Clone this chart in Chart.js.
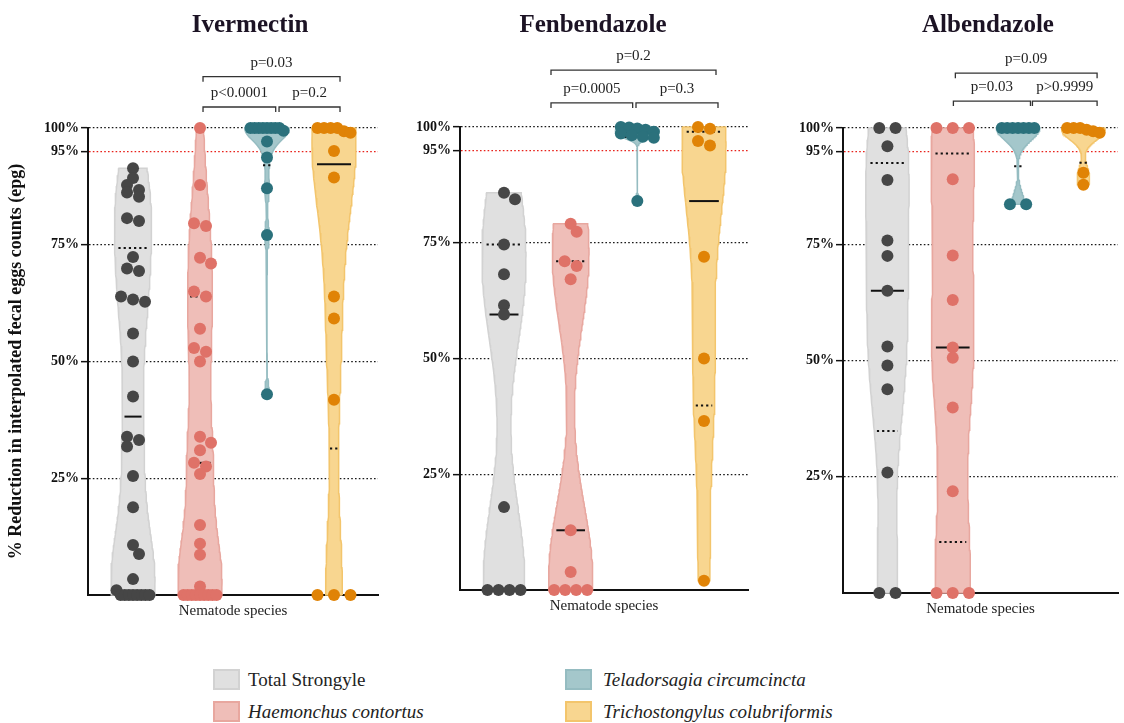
<!DOCTYPE html>
<html>
<head>
<meta charset="utf-8">
<script src="https://cdn.jsdelivr.net/npm/chart.js@4.4.1/dist/chart.umd.min.js"></script>
<style>
  body { margin: 0; background: #fff; width: 1124px; height: 723px; position: relative; overflow: hidden;
         font-family: "Liberation Serif", "Times New Roman", serif; }
  canvas { position: absolute; top: 0; }
  .drug { position: absolute; top: 9px; font-size: 25px; line-height: 30px; font-weight: bold; color: #1c1324;
          transform: translateX(-50%); white-space: nowrap; }
  .leg { position: absolute; font-size: 19px; line-height: 22px; color: #222; white-space: nowrap; }
  .leg .box { position: absolute; width: 23px; height: 17px; border: 2px solid; }
  .leg .txt { position: absolute; top: 0; }
</style>
</head>
<body>
<canvas id="c1" width="385" height="640" style="left:0px"></canvas>
<canvas id="c2" width="370" height="635" style="left:385px"></canvas>
<canvas id="c3" width="369" height="638" style="left:755px"></canvas>
<div class="drug" style="left:250px">Ivermectin</div>
<div class="drug" style="left:593px">Fenbendazole</div>
<div class="drug" style="left:988px">Albendazole</div>
<div id="legend"></div>
<script>
"use strict";

const DRUGS = ["Ivermectin", "Fenbendazole", "Albendazole"];
const SPECIES = ["Total Strongyle", "Haemonchus contortus", "Teladorsagia circumcincta", "Trichostongylus colubriformis"];
const Y_TICKS = [25, 50, 75, 95, 100];
const PAIRS = [[1, 2], [2, 3], [1, 3]];

// % reduction per animal
const ivmTotal = [91.4, 89.3, 87.8, 86.7, 86.2, 85.3, 80.7, 80.1, 72.4, 69.9, 69.4, 63.9, 63.3, 62.8, 56, 50, 42.5,
  33.9, 33.2, 31.8, 25.5, 18.8, 10.7, 8.8, 3.4, 1.0, 0, 0, 0, 0, 0, 0, 0, 0];
const ivmHaemonchus = [100, 87.8, 79.6, 79, 72.2, 71, 65, 63.9, 57, 52.9, 52.1, 50, 33.9, 32.6, 31, 28.3, 27.5, 25.9,
  15, 11, 8.6, 1.8, 0, 0, 0, 0, 0, 0, 0, 0, 0];
const ivmTeladorsagia = [100, 100, 100, 100, 100, 100, 100, 100, 99.4, 97.1, 93.7, 87.1, 77.1, 43];
const ivmTrichostrongylus = [100, 100, 100, 100, 99.3, 99, 95.1, 89.4, 63.9, 59.2, 41.8, 0, 0, 0];

const fbzTotal = [85.8, 84.4, 74.6, 68.2, 61.5, 59.5, 17.9, 0, 0, 0, 0];
const fbzHaemonchus = [79.1, 77.4, 71, 70, 67.1, 12.9, 3.9, 0, 0, 0, 0];
const fbzTeladorsagia = [100, 99.9, 99.7, 99.4, 99.0, 98.6, 98.2, 97.9, 97.7, 84];
const fbzTrichostrongylus = [100, 99.6, 97, 96, 72, 50, 36.5, 2];

const abzTotal = [100, 100, 96.1, 88.8, 75.8, 72.5, 65, 53, 48.9, 43.8, 25.9, 0, 0];
const abzHaemonchus = [100, 100, 100, 89, 72.6, 63, 52.8, 50.6, 39.9, 21.9, 0, 0, 0];
const abzTeladorsagia = [100, 100, 100, 100, 100, 100, 100, 83.6, 83.6];
const abzTrichostrongylus = [100, 100, 100, 99.6, 99.3, 99, 90.4, 87.8];

const ivmPValues = ["p<0.0001", "p=0.2", "p=0.03"];
const fbzPValues = ["p=0.0005", "p=0.3", "p=0.2"];
const abzPValues = ["p=0.03", "p>0.9999", "p=0.09"];

const FILL = ["#e0e0e0", "#efbeb8", "#a4c7cb", "#f8d690"];
const EDGE = ["#d2d2d2", "#e8a79f", "#95bcc1", "#f3c56c"];
const DOT = ["#464646", "#df7268", "#2b717c", "#e08306"];
const FONT = '"Liberation Serif", "Times New Roman", serif';
const HALF_WIDTH_PX = 22;
const X_AXIS_H = 45;

const PANEL_DATA = [
  [ivmTotal, ivmHaemonchus, ivmTeladorsagia, ivmTrichostrongylus],
  [fbzTotal, fbzHaemonchus, fbzTeladorsagia, fbzTrichostrongylus],
  [abzTotal, abzHaemonchus, abzTeladorsagia, abzTrichostrongylus]
];
const PANEL_P = [ivmPValues, fbzPValues, abzPValues];

const PANELS = [
  { canvas: "c1", width: 385, height: 640, top: 128, right: 7, axisW: 88, xMin: -0.672, xMax: 3.657, yTitle: true,
    brackets: [[1.045, 2.13], [2.18, 3.09], [1.045, 3.09]], levels: [104.5, 111.0] },
  { canvas: "c2", width: 370, height: 635, top: 127, right: 7, axisW: 75, xMin: -0.66, xMax: 3.66, yTitle: false,
    brackets: [[0.705, 1.93], [1.98, 3.21], [0.705, 3.18]], levels: [105.2, 112.3] },
  { canvas: "c3", width: 369, height: 638, top: 128, right: 2, axisW: 88, xMin: -0.68, xMax: 3.53, yTitle: false,
    brackets: [[1.01, 2.19], [2.22, 3.21], [1.04, 3.21]], levels: [105.8, 111.8] }
];

function mean(a) { return a.reduce((s, v) => s + v, 0) / a.length; }

function quantile(sorted, p) {
  const n = sorted.length;
  const pos = (n + 1) * p;
  if (pos <= 1) return sorted[0];
  if (pos >= n) return sorted[n - 1];
  const lo = Math.floor(pos);
  return sorted[lo - 1] + (pos - lo) * (sorted[lo] - sorted[lo - 1]);
}

function bandwidth(values) {
  const n = values.length;
  const m = mean(values);
  const sd = Math.sqrt(values.reduce((s, v) => s + (v - m) * (v - m), 0) / (n - 1));
  const s = values.slice().sort((a, b) => a - b);
  const iqr = quantile(s, 0.75) - quantile(s, 0.25);
  let a = Math.min(sd, iqr / 1.34);
  if (!(a > 0)) a = sd;
  return Math.max(0.75 * 0.9 * a * Math.pow(n, -0.2), 0.8);
}

function density(values, y, h) {
  let s = 0;
  for (const v of values) {
    const u = (y - v) / h;
    s += Math.exp(-0.5 * u * u);
  }
  return s / (values.length * h);
}

function makeViolin(values, center, halfMax) {
  const lo = Math.min(...values);
  const hi = Math.max(...values);
  const h = bandwidth(values);
  const steps = 120;
  const ys = [];
  const ds = [];
  let maxD = 0;
  for (let i = 0; i <= steps; i++) {
    const y = lo + (hi - lo) * i / steps;
    const d = density(values, y, h);
    ys.push(y);
    ds.push(d);
    if (d > maxD) maxD = d;
  }
  const right = ys.map((y, i) => ({ x: center + ds[i] / maxD * halfMax, y }));
  const left = ys.map((y, i) => ({ x: center - ds[i] / maxD * halfMax, y })).reverse();
  return {
    outline: right.concat(left, [right[0]]),
    widthAt: (y) => density(values, y, h) / maxD * halfMax
  };
}

// simple beeswarm: near-ties are spread side by side, others dodge overlaps
function swarm(values, center, unitX, unitY) {
  const d = 9;
  const sorted = values.slice().sort((a, b) => b - a);
  const placed = [];
  let i = 0;
  while (i < sorted.length) {
    let j = i;
    while (j + 1 < sorted.length && sorted[i] - sorted[j + 1] <= 1.2) j++;
    const k = j - i + 1;
    if (k > 1) {
      const exact = sorted[i] === sorted[j];
      const gap = exact ? Math.min(16.5, 33 / (k - 1)) : Math.min(12, 33 / (k - 1));
      for (let m = 0; m < k; m++) placed.push({ x: (m - (k - 1) / 2) * gap, y: sorted[i + m] });
    } else {
      const yv = sorted[i];
      let best = 0;
      for (const o of [0, 6, -6, 11, -11, 15, -15]) {
        if (placed.every((p) => Math.hypot(p.x - o, (p.y - yv) * unitY) >= d)) { best = o; break; }
      }
      placed.push({ x: best, y: yv });
    }
    i = j + 1;
  }
  return placed.map((p) => ({ x: center + p.x / unitX, y: p.y }));
}

const pLabelPlugin = {
  id: "pLabels",
  afterDatasetsDraw(chart, args, opts) {
    const { ctx } = chart;
    const xs = chart.scales.x;
    const ys = chart.scales.y;
    ctx.save();
    ctx.font = "15px " + FONT;
    ctx.fillStyle = "#222";
    ctx.textAlign = "center";
    ctx.textBaseline = "alphabetic";
    for (const it of opts.items || []) {
      ctx.fillText(it.label, xs.getPixelForValue((it.x1 + it.x2) / 2), ys.getPixelForValue(it.y) - 10);
    }
    ctx.restore();
  }
};

function buildPanel(panel, idx) {
  const groups = PANEL_DATA[idx];
  const unitX = (panel.width - panel.axisW - panel.right) / (panel.xMax - panel.xMin);
  const unitY = (panel.height - panel.top - X_AXIS_H) / 100;
  const datasets = [];

  groups.forEach((vals, g) => {
    const v = makeViolin(vals, g, HALF_WIDTH_PX / unitX);
    datasets.push({
      data: v.outline, showLine: true, fill: "shape", backgroundColor: FILL[g], borderColor: EDGE[g],
      borderWidth: 1.5, pointRadius: 0, order: 5, clip: false
    });
    const s = vals.slice().sort((a, b) => a - b);
    const stats = [[quantile(s, 0.25), true], [quantile(s, 0.75), true], [quantile(s, 0.5), false]];
    for (const [y, dotted] of stats) {
      const half = Math.max(0.8 * v.widthAt(y), 4 / unitX);
      datasets.push({
        data: [{ x: g - half, y }, { x: g + half, y }], showLine: true, fill: false,
        borderColor: "#111", borderWidth: 2, borderDash: dotted ? [2.2, 3] : [],
        pointRadius: 0, order: 4, clip: false
      });
    }
    datasets.push({
      data: swarm(vals, g, unitX, unitY), pointRadius: 6, backgroundColor: DOT[g],
      borderWidth: 0, order: 2, clip: false
    });
  });

  const tick = 5 / unitY;
  const items = [];
  PAIRS.forEach((pair, i) => {
    const [x1, x2] = panel.brackets[i];
    const y = panel.levels[i < 2 ? 0 : 1];
    datasets.push({
      data: [{ x: x1, y: y - tick }, { x: x1, y }, { x: x2, y }, { x: x2, y: y - tick }],
      showLine: true, fill: false, borderColor: "#333", borderWidth: 1.3, pointRadius: 0, order: 1, clip: false
    });
    items.push({ x1, x2, y, label: PANEL_P[idx][i] });
  });

  new Chart(document.getElementById(panel.canvas), {
    type: "scatter",
    data: { datasets },
    plugins: [pLabelPlugin],
    options: {
      responsive: false,
      animation: false,
      events: [],
      layout: { padding: { top: panel.top, right: panel.right, left: 0, bottom: 0 } },
      plugins: {
        legend: { display: false },
        tooltip: { enabled: false },
        pLabels: { items }
      },
      scales: {
        x: {
          type: "linear", min: panel.xMin, max: panel.xMax,
          ticks: { display: false },
          grid: { display: false },
          border: { display: true, color: "#111", width: 2 },
          title: { display: true, text: "Nematode species", color: "#222",
                   font: { family: FONT, size: 15 }, padding: { top: 0, bottom: 20 } },
          afterFit: (scale) => { scale.height = X_AXIS_H; }
        },
        y: {
          type: "linear", min: 0, max: 100,
          afterBuildTicks: (scale) => { scale.ticks = Y_TICKS.map((value) => ({ value })); },
          ticks: { color: "#111", padding: 2, font: { family: FONT, size: 14, weight: "bold" },
                   callback: (v) => v + "%" },
          grid: {
            color: (c) => (c.tick && c.tick.value === 95 ? "#e8221b" : "#1a1a1a"),
            lineWidth: 1.3, tickColor: "#111", tickLength: 7, tickWidth: 1.5, tickBorderDash: []
          },
          border: { display: true, color: "#111", width: 2, dash: [1.6, 2.2] },
          title: { display: panel.yTitle, text: "% Reduction in interpolated fecal eggs counts (epg)",
                   color: "#111", font: { family: FONT, size: 18, weight: "bold" }, padding: { top: 6, bottom: 0 } },
          afterFit: (scale) => { scale.width = panel.axisW; }
        }
      }
    }
  });
}

function buildLegend() {
  const spots = [[213, 669], [213, 701], [565, 669], [565, 701]];
  const el = document.getElementById("legend");
  SPECIES.forEach((name, g) => {
    const item = document.createElement("div");
    item.className = "leg";
    item.style.left = spots[g][0] + "px";
    item.style.top = spots[g][1] + "px";
    item.innerHTML = `<span class="box" style="left:0;top:0;background:${FILL[g]};border-color:${EDGE[g]}"></span>` +
      `<span class="txt" style="left:${g < 2 ? 35 : 38}px;font-style:${g === 0 ? "normal" : "italic"}">${name}</span>`;
    el.appendChild(item);
  });
}

PANELS.forEach(buildPanel);
buildLegend();
</script>
</body>
</html>
